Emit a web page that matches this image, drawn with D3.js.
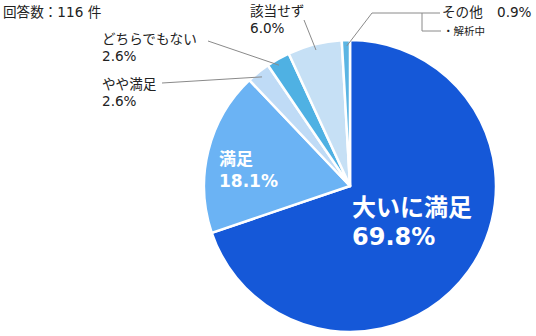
<!DOCTYPE html>
<html>
<head>
<meta charset="utf-8">
<script src="https://cdn.jsdelivr.net/npm/d3@7"></script>
<style>
  html, body { margin: 0; padding: 0; background: #fff; }
  svg { display: block; }
  text { font-family: "DejaVu Sans", "Noto Sans CJK JP", sans-serif; }
</style>
</head>
<body>
<div id="chart"></div>
<script>
// Satisfaction survey breakdown (n = 116)
const categories = ["大いに満足", "満足", "やや満足", "どちらでもない", "該当せず", "その他"];
const values = [69.8, 18.1, 2.6, 2.6, 6.0, 0.9];
const colors = ["#1558d8", "#6bb3f4", "#bfdbf6", "#4fb1e3", "#c6e0f5", "#5bb5e3"];
const respondentLabel = "回答数：116 件";
const otherNote = "・解析中";

const W = 536, H = 336;
const cx = 350, cy = 186, R = 146;
const fs = 13.6;

const svg = d3.select("#chart").append("svg")
  .attr("width", W).attr("height", H);

const data = categories.map((c, i) => ({ name: c, value: values[i], color: colors[i] }));

const pie = d3.pie().value(d => d.value).sort(null);
const arcs = pie(data);
const arc = d3.arc().innerRadius(0).outerRadius(R);
const fmt = d => d3.format(".1f")(d) + "%";

const g = svg.append("g").attr("transform", `translate(${cx},${cy})`);

g.selectAll("path.slice").data(arcs).join("path")
  .attr("class", "slice")
  .attr("d", arc)
  .attr("fill", d => d.data.color)
  .attr("stroke", "#fff")
  .attr("stroke-width", 2.5)
  .attr("stroke-linejoin", "round");

// Respondent count
svg.append("text").attr("x", 3).attr("y", 17)
  .attr("font-size", fs).attr("fill", "#222").text(respondentLabel);

// Inside labels for the two large slices
const inside = [
  { i: 0, x: 352, y: 216, size: 24, dy: 29 },
  { i: 1, x: 219, y: 165, size: 17, dy: 22 }
];
inside.forEach(o => {
  const t = svg.append("text").attr("x", o.x).attr("y", o.y)
    .attr("font-size", o.size).attr("font-weight", "bold").attr("fill", "#fff");
  t.append("tspan").attr("x", o.x).text(data[o.i].name);
  t.append("tspan").attr("x", o.x).attr("dy", o.dy).text(fmt(data[o.i].value));
});

// Outside labels with leader lines
const lineColor = "#8a8a8a";
function edgePoint(i, frac) {
  const a = arcs[i];
  const ang = a.startAngle + (a.endAngle - a.startAngle) * frac;
  const rr = R * 0.96;
  return [cx + rr * Math.sin(ang), cy - rr * Math.cos(ang)];
}

const outside = [
  { i: 2, x: 102, y: 89, dy: 17, from: [162, 83], frac: 0.5 },
  { i: 3, x: 102, y: 44, dy: 17, from: [208, 41], frac: 0.4 },
  { i: 4, x: 250, y: 16, dy: 17, from: [304, 20], frac: 0.5 }
];
outside.forEach(o => {
  const p = edgePoint(o.i, o.frac);
  svg.append("line")
    .attr("x1", o.from[0]).attr("y1", o.from[1])
    .attr("x2", p[0]).attr("y2", p[1])
    .attr("stroke", lineColor).attr("stroke-width", 1);
  const t = svg.append("text").attr("x", o.x).attr("y", o.y)
    .attr("font-size", fs).attr("fill", "#222");
  t.append("tspan").attr("x", o.x).text(data[o.i].name);
  t.append("tspan").attr("x", o.x).attr("dy", o.dy).text(fmt(data[o.i].value));
});

// その他 with bracket-style leader and note
{
  const p = edgePoint(5, 0.6);
  svg.append("polyline")
    .attr("points", [[p[0], p[1]], [372, 13], [440, 13]].map(q => q.join(",")).join(" "))
    .attr("fill", "none").attr("stroke", lineColor).attr("stroke-width", 1);
  svg.append("polyline")
    .attr("points", [[422, 13], [422, 31], [441, 31]].map(q => q.join(",")).join(" "))
    .attr("fill", "none").attr("stroke", lineColor).attr("stroke-width", 1);
  svg.append("text").attr("x", 442).attr("y", 17)
    .attr("font-size", fs).attr("fill", "#222").text(data[5].name);
  svg.append("text").attr("x", 497).attr("y", 17)
    .attr("font-size", fs).attr("fill", "#222").text(fmt(data[5].value));
  svg.append("text").attr("x", 443).attr("y", 35)
    .attr("font-size", 10.5).attr("fill", "#222").text(otherNote);
}
</script>
</body>
</html>
